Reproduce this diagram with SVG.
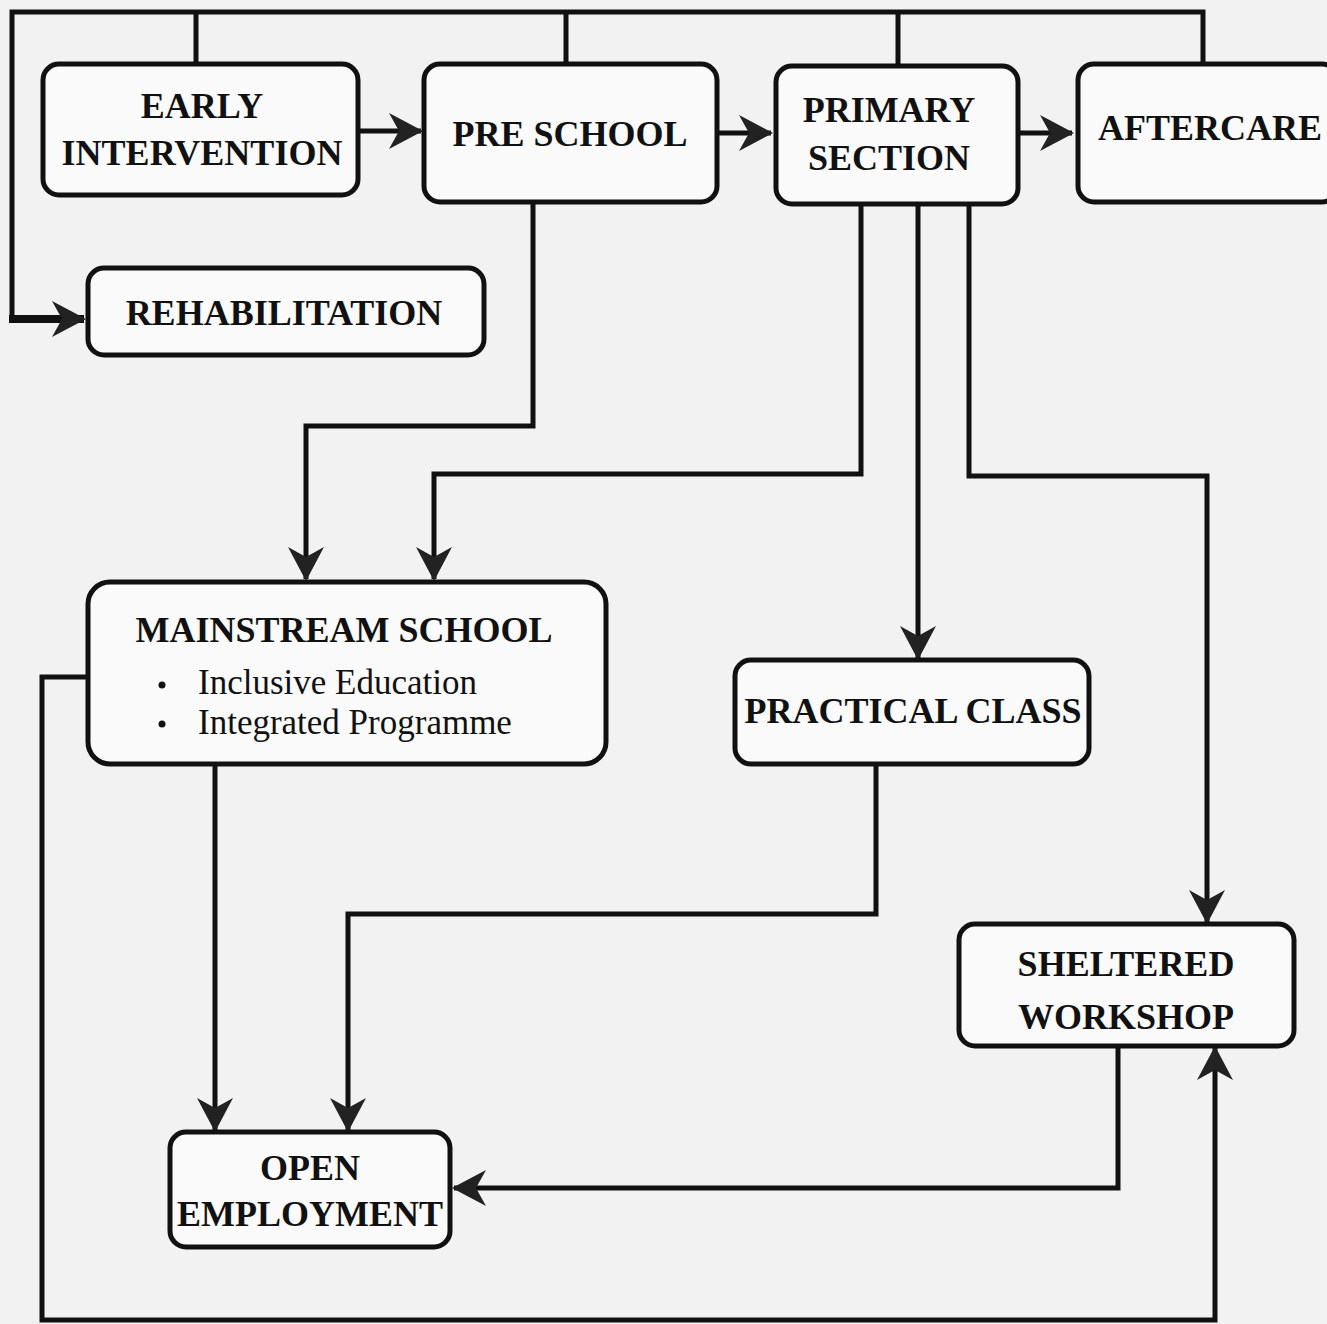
<svg xmlns="http://www.w3.org/2000/svg" width="1327" height="1324" viewBox="0 0 1327 1324">
<style>
.bg{fill:#f2f2f2}
.box{fill:#fafafa;stroke:#111;stroke-width:5}
.ln{fill:none;stroke:#111;stroke-width:5;stroke-linejoin:miter}
.t{font-family:"Liberation Serif","Times New Roman",serif;font-weight:bold;font-size:36px;fill:#111;text-anchor:middle}
.s{font-family:"Liberation Serif","Times New Roman",serif;font-size:35px;fill:#111}
</style>
<defs>
<marker id="ah" viewBox="0 0 36 36" refX="34" refY="18" markerWidth="36" markerHeight="36" markerUnits="userSpaceOnUse" orient="auto">
<path d="M36,18 L2,0 L12,18 L2,36 Z" fill="#222"/>
</marker>
</defs>
<rect class="bg" x="0" y="0" width="1327" height="1324"/>
<g id="connectors">
<polyline class="ln" points="12,322 12,12 1203,12 1203,64"/>
<line class="ln" x1="196" y1="12" x2="196" y2="64"/>
<line class="ln" x1="566" y1="12" x2="566" y2="64"/>
<line class="ln" x1="898" y1="12" x2="898" y2="66"/>
<line class="ln" style="stroke-width:8" x1="9" y1="319" x2="84" y2="319" marker-end="url(#ah)"/>
<line class="ln" x1="358" y1="131" x2="421" y2="131" marker-end="url(#ah)"/>
<line class="ln" x1="717" y1="133" x2="771" y2="133" marker-end="url(#ah)"/>
<line class="ln" x1="1018" y1="133" x2="1072" y2="133" marker-end="url(#ah)"/>
<polyline class="ln" points="533,202 533,426 306,426 306,579" marker-end="url(#ah)"/>
<polyline class="ln" points="861,204 861,474 434,474 434,579" marker-end="url(#ah)"/>
<line class="ln" x1="918" y1="204" x2="918" y2="658" marker-end="url(#ah)"/>
<polyline class="ln" points="969,204 969,476 1207,476 1207,922" marker-end="url(#ah)"/>
<line class="ln" x1="215" y1="764" x2="215" y2="1130" marker-end="url(#ah)"/>
<polyline class="ln" points="876,764 876,914 348,914 348,1130" marker-end="url(#ah)"/>
<polyline class="ln" points="1118,1046 1118,1188 454,1188" marker-end="url(#ah)"/>
<polyline class="ln" points="88,677 42,677 42,1320 1215,1320 1215,1048" marker-end="url(#ah)"/>
</g>
<g id="early-intervention">
<rect class="box" x="43" y="64" width="315" height="131" rx="16"/>
<text class="t" x="202" y="118">EARLY</text>
<text class="t" x="202" y="165">INTERVENTION</text>
</g>
<g id="pre-school">
<rect class="box" x="424" y="64" width="293" height="138" rx="16"/>
<text class="t" x="570" y="146">PRE SCHOOL</text>
</g>
<g id="primary-section">
<rect class="box" x="776" y="66" width="242" height="138" rx="16"/>
<text class="t" x="889" y="122">PRIMARY</text>
<text class="t" x="889" y="170">SECTION</text>
</g>
<g id="aftercare">
<rect class="box" x="1078" y="64" width="260" height="138" rx="16"/>
<text class="t" x="1210" y="140">AFTERCARE</text>
</g>
<g id="rehabilitation">
<rect class="box" x="88" y="268" width="396" height="87" rx="16"/>
<text class="t" x="284" y="325">REHABILITATION</text>
</g>
<g id="mainstream-school">
<rect class="box" x="88" y="582" width="518" height="182" rx="22"/>
<text class="t" x="344" y="642">MAINSTREAM SCHOOL</text>
<circle cx="162" cy="685" r="3.5" fill="#111"/>
<circle cx="162" cy="724" r="3.5" fill="#111"/>
<text class="s" x="198" y="694">Inclusive Education</text>
<text class="s" x="198" y="734">Integrated Programme</text>
</g>
<g id="practical-class">
<rect class="box" x="735" y="660" width="354" height="104" rx="16"/>
<text class="t" x="913" y="723">PRACTICAL CLASS</text>
</g>
<g id="sheltered-workshop">
<rect class="box" x="959" y="924" width="335" height="122" rx="16"/>
<text class="t" x="1126" y="976">SHELTERED</text>
<text class="t" x="1126" y="1029">WORKSHOP</text>
</g>
<g id="open-employment">
<rect class="box" x="170" y="1132" width="280" height="115" rx="16"/>
<text class="t" x="310" y="1180">OPEN</text>
<text class="t" x="310" y="1226">EMPLOYMENT</text>
</g>
</svg>
